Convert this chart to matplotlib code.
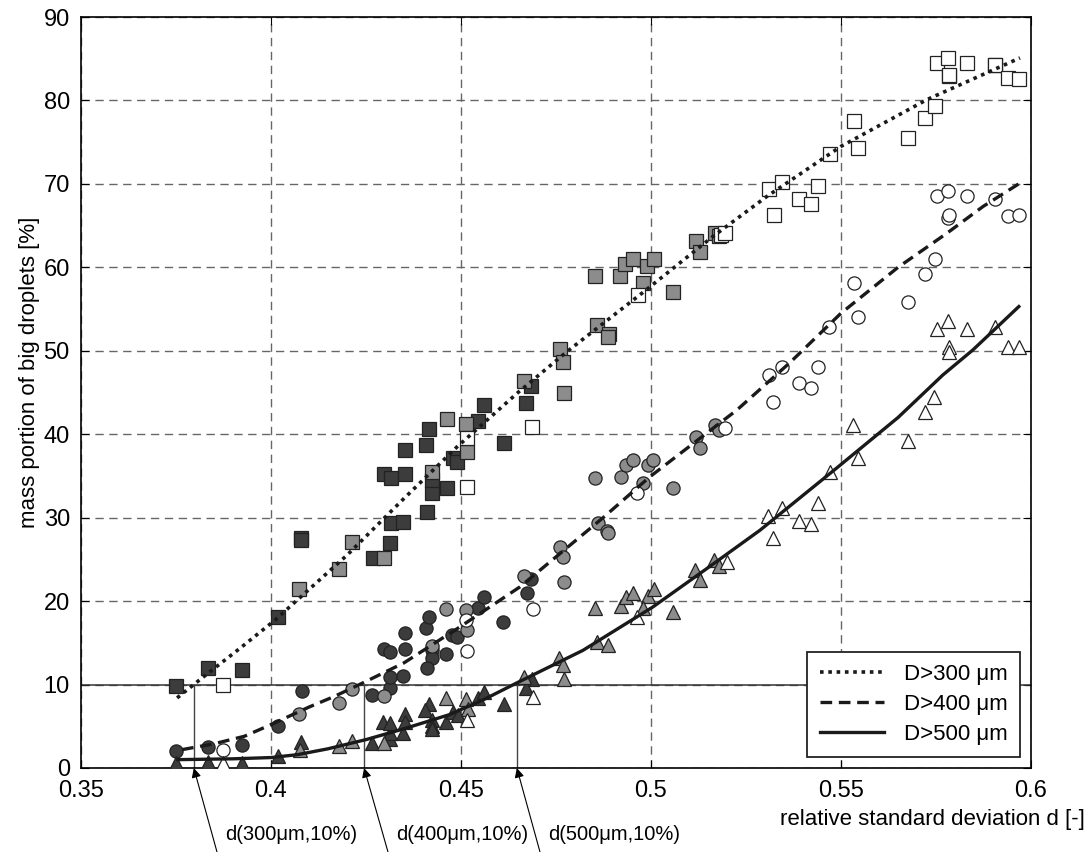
import matplotlib
matplotlib.use("Agg")
import matplotlib.pyplot as plt

plt.rcParams['font.family'] = ['Liberation Sans', 'DejaVu Sans']

# --- measured points: (relative std deviation d, mass portion %) ---
# squares: D > 300 um
sq_dark_x = [0.375, 0.3834, 0.3924, 0.4018, 0.4079, 0.408, 0.4268, 0.4297, 0.4316, 0.4313,
             0.4316, 0.4347, 0.4353, 0.4353, 0.4408, 0.4416, 0.441, 0.4424, 0.4424, 0.4463,
             0.4479, 0.449, 0.4545, 0.456, 0.4613, 0.4671, 0.4684]
sq_dark_y = [9.8, 12.0, 11.8, 18.1, 27.6, 27.3, 25.2, 35.2, 34.8, 27.0,
             29.4, 29.5, 35.2, 38.1, 38.7, 40.6, 30.7, 32.9, 34.5, 33.5,
             37.2, 36.7, 41.6, 43.5, 39.0, 43.8, 45.8]
sq_gray_x = [0.4074, 0.4179, 0.4213, 0.4297, 0.4424, 0.4463, 0.4513, 0.4516, 0.4666, 0.4771,
             0.476, 0.4768, 0.4853, 0.4858, 0.489, 0.4887, 0.4918, 0.4932, 0.4953, 0.499,
             0.5008, 0.4979, 0.5058, 0.5118, 0.5129, 0.5168, 0.518]
sq_gray_y = [21.5, 23.9, 27.1, 25.2, 35.5, 41.8, 41.2, 37.9, 46.4, 45.0,
             50.2, 48.7, 59.0, 53.1, 52.0, 51.6, 59.0, 60.4, 61.0, 60.2,
             61.0, 58.1, 57.1, 63.2, 61.9, 64.1, 63.7]
sq_white_x = [0.3874, 0.4516, 0.4516, 0.4687, 0.4966, 0.5185, 0.5195, 0.5324, 0.5311, 0.5345,
              0.5389, 0.5421, 0.5439, 0.5471, 0.5534, 0.5545, 0.5676, 0.5721, 0.5747, 0.5753,
              0.5782, 0.5784, 0.5784, 0.5832, 0.5905, 0.5905, 0.5939, 0.5968]
sq_white_y = [9.9, 39.6, 33.7, 40.9, 56.7, 63.9, 64.1, 66.3, 69.4, 70.2,
              68.2, 67.6, 69.8, 73.6, 77.6, 74.3, 75.5, 77.9, 79.3, 84.5,
              85.1, 82.9, 83.1, 84.5, 84.2, 84.3, 82.7, 82.6]

# circles: D > 400 um
ci_dark_x = [0.375, 0.3834, 0.3924, 0.4018, 0.4082, 0.4266, 0.4313, 0.4313, 0.4347, 0.4297,
             0.4313, 0.4353, 0.4353, 0.4408, 0.4416, 0.4424, 0.4424, 0.441, 0.446, 0.4476,
             0.449, 0.4545, 0.456, 0.461, 0.4684, 0.4674]
ci_dark_y = [2.0, 2.5, 2.8, 5.0, 9.2, 8.8, 9.6, 10.9, 11.0, 14.3,
             13.9, 14.3, 16.2, 16.8, 18.1, 14.2, 13.2, 12.0, 13.7, 15.9,
             15.7, 19.2, 20.5, 17.5, 22.7, 21.0]
ci_gray_x = [0.4074, 0.4179, 0.4213, 0.4297, 0.4424, 0.446, 0.4513, 0.4516, 0.4666, 0.476,
             0.4768, 0.4771, 0.486, 0.4884, 0.4887, 0.4853, 0.4921, 0.4934, 0.4953, 0.4992,
             0.5005, 0.4979, 0.5058, 0.5118, 0.5129, 0.5168, 0.518]
ci_gray_y = [6.5, 7.8, 9.5, 8.6, 14.6, 19.1, 18.9, 16.5, 23.0, 26.5,
             25.3, 22.3, 29.4, 28.4, 28.2, 34.8, 34.9, 36.3, 36.9, 36.3,
             36.9, 34.2, 33.6, 39.7, 38.4, 41.1, 40.5]
ci_white_x = [0.3874, 0.4513, 0.4516, 0.469, 0.4963, 0.5195, 0.5311, 0.5345, 0.5321, 0.5389,
              0.5421, 0.5439, 0.5468, 0.5545, 0.5534, 0.5676, 0.5721, 0.5747, 0.5753, 0.5782,
              0.5832, 0.5782, 0.5784, 0.5905, 0.5939, 0.5968]
ci_white_y = [2.2, 17.7, 14.0, 19.1, 33.0, 40.8, 47.1, 48.1, 43.9, 46.2,
              45.6, 48.1, 52.8, 54.1, 58.1, 55.8, 59.2, 61.0, 68.5, 69.2,
              68.5, 65.9, 66.3, 68.2, 66.1, 66.3]

# triangles: D > 500 um
tr_dark_x = [0.375, 0.3834, 0.3924, 0.4018, 0.4079, 0.4266, 0.4313, 0.4313, 0.4295, 0.4313,
             0.4347, 0.4353, 0.4353, 0.4416, 0.4405, 0.4424, 0.4424, 0.4424, 0.446, 0.4479,
             0.4492, 0.4545, 0.456, 0.4613, 0.4687, 0.4671]
tr_dark_y = [0.6, 0.7, 0.6, 1.4, 3.1, 3.0, 3.5, 4.2, 5.5, 5.4,
             4.2, 6.5, 5.5, 7.7, 7.0, 5.8, 5.0, 4.7, 5.5, 6.7,
             6.4, 8.4, 9.1, 7.7, 10.7, 9.6]
tr_gray_x = [0.4076, 0.4179, 0.4213, 0.4297, 0.446, 0.4513, 0.4518, 0.4666, 0.4758, 0.4768,
             0.4771, 0.4858, 0.4887, 0.4853, 0.4921, 0.4934, 0.4953, 0.4992, 0.5008, 0.4979,
             0.5058, 0.5116, 0.5129, 0.5166, 0.5179]
tr_gray_y = [2.2, 2.6, 3.2, 3.0, 8.4, 8.3, 7.1, 10.9, 13.2, 12.4,
             10.7, 15.1, 14.7, 19.2, 19.4, 20.5, 21.0, 20.6, 21.5, 19.2,
             18.7, 23.7, 22.5, 24.9, 24.2]
tr_white_x = [0.3874, 0.4516, 0.469, 0.4963, 0.52, 0.5308, 0.5345, 0.5321, 0.5389, 0.5421,
              0.5439, 0.5471, 0.5532, 0.5545, 0.5676, 0.5721, 0.5745, 0.5753, 0.5782, 0.5832,
              0.5905, 0.5784, 0.5784, 0.5939, 0.5968]
tr_white_y = [0.6, 5.8, 8.5, 18.1, 24.7, 30.2, 31.2, 27.6, 29.6, 29.3,
              31.7, 35.5, 41.1, 37.2, 39.2, 42.7, 44.5, 52.6, 53.6, 52.6,
              52.8, 50.5, 49.8, 50.5, 50.5]

# fitted curves
fit300_x = [0.3753, 0.383, 0.392, 0.401, 0.42, 0.435, 0.449, 0.465, 0.4779, 0.4979, 0.5163,
            0.5305, 0.55, 0.5726, 0.5971]
fit300_y = [8.4, 11.2, 14.4, 17.7, 25.5, 32.3, 38.5, 45.0, 49.9, 57.0, 63.7,
            68.5, 74.5, 80.1, 85.1]
fit400_x = [0.3766, 0.385, 0.393, 0.40, 0.41, 0.4168, 0.4242, 0.435, 0.4497, 0.4655, 0.4874,
            0.4997, 0.51, 0.5226, 0.5366, 0.55, 0.565, 0.5779, 0.5874, 0.5971]
fit400_y = [2.2, 2.9, 3.8, 5.2, 7.3, 8.6, 10.2, 12.6, 16.9, 21.7, 30.0,
            34.9, 38.5, 42.9, 48.6, 54.5, 60.0, 64.1, 67.3, 70.1]
fit500_x = [0.3755, 0.39, 0.40, 0.407, 0.415, 0.425, 0.435, 0.447, 0.456, 0.4647, 0.4821,
            0.5005, 0.515, 0.5287, 0.549, 0.565, 0.5768, 0.5847, 0.5968]
fit500_y = [1.0, 1.1, 1.25, 1.6, 2.3, 3.4, 4.7, 6.4, 8.2, 10.2, 14.1,
            19.3, 24.0, 28.5, 36.0, 42.0, 47.1, 50.1, 55.3]

# d at 10 % for each size class
d10_labels = ['d(300\u03bcm,10%)', 'd(400\u03bcm,10%)', 'd(500\u03bcm,10%)']
d10_values = [0.3797, 0.4245, 0.4647]

fig = plt.figure(figsize=(10.91, 8.52), dpi=100)
ax = fig.add_axes([0.0742, 0.0986, 0.8708, 0.8814])

dark, gray = '#3c3c3c', '#8c8c8c'
edge = '#222222'
groups = [
    (sq_dark_x, sq_dark_y, 's', dark), (sq_gray_x, sq_gray_y, 's', gray), (sq_white_x, sq_white_y, 's', 'white'),
    (ci_dark_x, ci_dark_y, 'o', dark), (ci_gray_x, ci_gray_y, 'o', gray), (ci_white_x, ci_white_y, 'o', 'white'),
    (tr_dark_x, tr_dark_y, '^', dark), (tr_gray_x, tr_gray_y, '^', gray), (tr_white_x, tr_white_y, '^', 'white'),
]
for xs, ys, m, c in groups:
    ms = {'s': 9.5, 'o': 9.5, '^': 10.5}[m]
    ax.plot(xs, ys, ls='none', marker=m, ms=ms, mfc=c, mec=edge, mew=0.9, zorder=3)

l1, = ax.plot(fit300_x, fit300_y, ls=(0, (1, 1.3)), color='#1a1a1a', lw=2.6, zorder=4)
l2, = ax.plot(fit400_x, fit400_y, ls=(0, (3.5, 2)), color='#1a1a1a', lw=2.4, zorder=4)
l3, = ax.plot(fit500_x, fit500_y, ls='-', color='#1a1a1a', lw=2.4, zorder=4)

ax.set_xlim(0.35, 0.6)
ax.set_ylim(0, 90)
ax.set_xticks([0.35, 0.4, 0.45, 0.5, 0.55, 0.6])
ax.set_xticklabels(['0.35', '0.4', '0.45', '0.5', '0.55', '0.6'])
ax.set_yticks(range(0, 91, 10))
ax.tick_params(direction='in', top=True, right=True, length=6, labelsize=17)
ax.tick_params(axis='x', pad=9)
ax.tick_params(axis='y', pad=8)
ax.grid(True, ls=(0, (6, 4)), color='#666666', lw=1.0, zorder=1)
for s in ax.spines.values():
    s.set_linewidth(1.2)

# 10 % reference line and d(...,10%) markers
ax.axhline(10, color='#333333', lw=1.1, zorder=2)
for d in d10_values:
    ax.plot([d, d], [0, 10], color='#444444', lw=1.0, zorder=2)

# bottom annotations with arrows
txt_x = [291, 462, 614]
arrow_start = [217, 388, 540]
for lab, d, tx, ax0 in zip(d10_labels, d10_values, txt_x, arrow_start):
    fig.text(tx / 1091, 1 - 835 / 852, lab, ha='center', va='center', fontsize=14.5)
    ax.annotate('', xy=(d, 0), xycoords='data', xytext=(ax0 / 1091, 0.0),
                textcoords='figure fraction', annotation_clip=False,
                arrowprops=dict(arrowstyle='-|>', lw=0.8, color='black',
                                mutation_scale=14, shrinkA=0, shrinkB=0))

fig.text(1085 / 1091, 1 - 820 / 852, 'relative standard deviation d [-]',
         ha='right', va='center', fontsize=16)
fig.text(30 / 1091, 1 - 372 / 852, 'mass portion of big droplets [%]',
         ha='center', va='center', rotation=90, fontsize=16)

leg = ax.legend([l1, l2, l3], ['D>300 \u03bcm', 'D>400 \u03bcm', 'D>500 \u03bcm'],
                loc='lower right', bbox_to_anchor=(1020 / 1091, 1 - 757 / 852),
                bbox_transform=fig.transFigure, borderaxespad=0, fontsize=16,
                fancybox=False, framealpha=1, edgecolor='#222222',
                handlelength=2.9, handletextpad=0.9, labelspacing=0.4, borderpad=0.55)
leg.get_frame().set_linewidth(1.3)
leg.set_zorder(5)

fig.savefig('out.png', dpi=100)
